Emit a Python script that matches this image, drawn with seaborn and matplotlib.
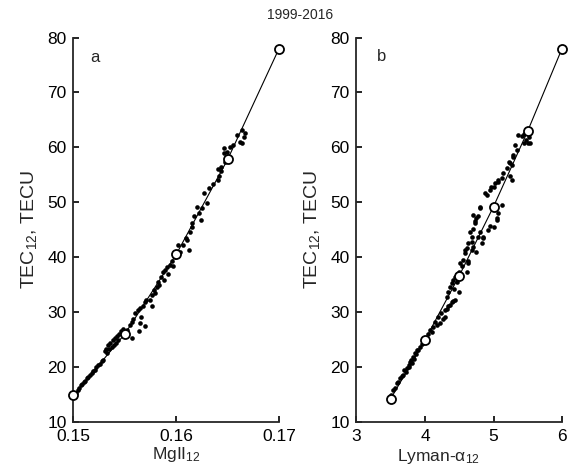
import numpy as np
import pandas as pd
import matplotlib
matplotlib.use("Agg")
import matplotlib.pyplot as plt
import seaborn as sns

# ---------------- data ----------------
# Panel a: monthly points (MgII_12, TEC_12)
a_mg = [0.1502, 0.1504, 0.1505, 0.1507, 0.1508, 0.1510, 0.1511, 0.1513, 0.1514, 0.1516,
        0.1518, 0.1519, 0.1521, 0.1522, 0.1524, 0.1526, 0.1528, 0.1529,
        0.1531, 0.1532, 0.1534, 0.1536, 0.1538, 0.1540, 0.1542, 0.1544, 0.1546, 0.1548,
        0.1533, 0.1535, 0.1537, 0.1539, 0.1541, 0.1543,
        0.1552, 0.1555, 0.1557, 0.1558, 0.1560, 0.1563, 0.1565, 0.1568, 0.1570, 0.1571,
        0.1574, 0.1576, 0.1576, 0.1578, 0.1579, 0.1581, 0.1582, 0.1583, 0.1585, 0.1587,
        0.1588, 0.1589, 0.1591, 0.1592, 0.1594, 0.1596, 0.1597, 0.1599,
        0.1557, 0.1564, 0.1570, 0.1566, 0.1565,
        0.1602, 0.1604, 0.1607, 0.1610, 0.1612, 0.1609, 0.1613, 0.1615, 0.1615, 0.1617,
        0.1620, 0.1622, 0.1624, 0.1625, 0.1630, 0.1627, 0.1632, 0.1636, 0.1641, 0.1642,
        0.1644, 0.1644, 0.1647, 0.1641, 0.1646, 0.1649, 0.1646, 0.1652, 0.1655, 0.1659,
        0.1662, 0.1664, 0.1664, 0.1667, 0.1666]
a_tec = [15.3, 15.8, 16.2, 16.6, 16.9, 17.2, 17.5, 17.9, 18.2, 18.5,
         18.8, 19.2, 19.5, 19.9, 20.3, 20.6, 21.0, 21.3,
         22.9, 23.2, 23.9, 24.4, 24.8, 25.2, 25.6, 26.0, 26.5, 26.9,
         22.6, 23.2, 23.7, 24.0, 24.4, 24.8,
         26.8, 27.6, 28.2, 28.8, 29.8, 30.4, 30.8, 31.0, 31.9, 32.2,
         32.2, 33.1, 31.0, 34.0, 33.5, 34.6, 35.5, 34.9, 36.4, 37.3,
         35.8, 37.7, 38.2, 37.0, 38.6, 39.2, 38.3, 40.1,
         25.3, 26.6, 27.4, 29.1, 27.9,
         42.2, 41.0, 42.2, 43.1, 41.3, 43.4, 44.6, 45.5, 46.2, 47.4,
         49.2, 48.0, 46.8, 48.9, 49.8, 51.6, 52.5, 53.3, 54.1, 54.7,
         55.6, 56.5, 57.4, 56.0, 58.9, 59.2, 59.8, 60.1, 60.4, 62.3,
         61.0, 63.2, 60.7, 62.6, 61.8]

# Panel a: binned means (open circles)
a_bin_mg = [0.150, 0.155, 0.160, 0.165, 0.170]
a_bin_tec = [14.8, 26.0, 40.5, 57.8, 78.0]

# Panel b: monthly points (Lyman-alpha_12, TEC_12)
b_ly = [3.51, 3.54, 3.56, 3.59, 3.61, 3.64, 3.66, 3.68, 3.70, 3.72,
        3.74, 3.76, 3.77, 3.78, 3.80, 3.81, 3.83, 3.84, 3.85, 3.87,
        3.89, 3.90, 3.93, 3.95, 3.97,
        4.04, 4.07, 4.10, 4.12, 4.15, 4.17, 4.19, 4.22, 4.24, 4.26,
        4.29, 4.29, 4.32, 4.34, 4.36, 4.39, 4.41, 4.44,
        4.32, 4.34, 4.37, 4.39, 4.41, 4.44, 4.46, 4.49, 4.42, 4.47,
        4.49, 4.51, 4.54, 4.56, 4.58, 4.58, 4.61, 4.61, 4.63, 4.63,
        4.63, 4.66, 4.68, 4.68, 4.68, 4.70, 4.70, 4.70, 4.73, 4.73,
        4.75, 4.75, 4.78, 4.78, 4.80, 4.80, 4.80, 4.83, 4.85, 4.85,
        4.88, 4.90, 4.92, 4.95, 4.95, 4.97, 5.00, 5.00, 5.02, 5.05,
        5.05, 5.07, 5.07, 5.07, 5.12, 5.12, 5.14, 5.19, 5.22, 5.24,
        5.27, 5.27, 5.24, 5.29, 5.29, 5.31, 5.34, 5.36, 5.41, 5.44,
        5.45, 5.47, 5.48, 5.50, 5.53, 5.52]
b_tec = [14.8, 15.8, 16.2, 17.0, 17.3, 17.9, 18.3, 18.5, 19.4, 19.0,
         19.8, 20.3, 20.0, 20.9, 21.2, 20.7, 21.8, 21.5, 22.5, 22.3,
         23.0, 23.1, 23.7, 24.2, 24.5,
         25.9, 26.7, 26.3, 27.3, 28.2, 27.6, 29.1, 27.9, 29.8, 28.8,
         29.1, 30.4, 30.6, 31.0, 31.3, 31.9, 32.0, 32.2,
         32.8, 33.7, 34.6, 35.2, 35.8, 36.4, 37.0, 33.7, 34.2, 35.5,
         37.3, 38.9, 38.3, 39.5, 40.7, 41.3, 41.6, 37.3, 39.2, 38.9,
         42.5, 44.6, 43.7, 42.8, 41.3, 41.9, 45.2, 47.7, 46.2, 46.5,
         47.1, 41.0, 43.7, 47.4, 48.9, 44.6, 49.2, 42.5, 43.7, 43.4,
         51.6, 51.3, 44.9, 52.2, 45.6, 52.8, 45.5, 52.8, 53.5, 46.8,
         47.1, 48.0, 54.1, 53.7, 49.5, 54.4, 55.3, 56.2, 57.4, 54.7,
         54.1, 56.8, 57.1, 58.6, 58.3, 60.4, 59.5, 62.3, 62.0, 60.7,
         62.5, 61.3, 62.8, 60.8, 60.7, 61.8]

# Panel b: binned means (open circles)
b_bin_ly = [3.5, 4.0, 4.5, 5.0, 5.5, 6.0]
b_bin_tec = [14.2, 24.9, 36.6, 49.2, 63.0, 78.0]

a_xticks = [0.15, 0.16, 0.17]
a_xticklabels = ["0.15", "0.16", "0.17"]
b_xticks = [3, 4, 5, 6]
yticks = [10, 20, 30, 40, 50, 60, 70, 80]

title = "1999-2016"

# ---------------- style ----------------
sns.set_style("ticks")
plt.rcParams["font.family"] = ["Liberation Sans", "DejaVu Sans"]
plt.rcParams["mathtext.default"] = "regular"
plt.rcParams["axes.linewidth"] = 1.3

fig = plt.figure(figsize=(5.71, 4.74), dpi=100)
ax_a = fig.add_axes([0.1287, 0.1103, 0.3600, 0.8105])
ax_b = fig.add_axes([0.6243, 0.1103, 0.3600, 0.8105])

dfa = pd.DataFrame({"x": a_mg, "y": a_tec})
dfa_bin = pd.DataFrame({"x": a_bin_mg, "y": a_bin_tec})
dfb = pd.DataFrame({"x": b_ly, "y": b_tec})
dfb_bin = pd.DataFrame({"x": b_bin_ly, "y": b_bin_tec})

for ax, df, dfbin in [(ax_a, dfa, dfa_bin), (ax_b, dfb, dfb_bin)]:
    sns.scatterplot(data=df, x="x", y="y", ax=ax, color="black", s=11,
                    linewidth=0, legend=False, zorder=3)
    sns.lineplot(data=dfbin, x="x", y="y", ax=ax, color="black", linewidth=0.8,
                 sort=False, legend=False, zorder=2)
    ax.plot(dfbin["x"], dfbin["y"], linestyle="none", marker="o",
            markersize=6.5, markerfacecolor="white", markeredgecolor="black",
            markeredgewidth=1.3, zorder=4, clip_on=False)
    ax.set_ylim(10, 80)
    ax.set_yticks(yticks)
    ax.set_ylabel("TEC$_{12}$, TECU", fontsize=14, labelpad=6)
    ax.tick_params(direction="in", length=4, width=1.2, labelsize=12.5,
                   colors="black")
    ax.tick_params(axis="x", pad=5)
    ax.tick_params(axis="y", pad=5)
    for s in ["top", "right"]:
        ax.spines[s].set_visible(False)

ax_a.set_xlim(0.15, 0.17)
ax_a.set_xticks(a_xticks)
ax_a.set_xticklabels(a_xticklabels)
ax_a.set_xlabel("MgII$_{12}$", fontsize=12.5, labelpad=1)
ax_b.set_xlim(3, 6)
ax_b.set_xticks(b_xticks)
ax_b.set_xlabel("Lyman-$\\alpha_{12}$", fontsize=12.5, labelpad=1)
ax_b.xaxis.set_label_coords(0.40, -0.066, transform=ax_b.transAxes)
ax_b.xaxis.label.set_va("top")

ax_a.text(0.105, 0.947, "a", transform=ax_a.transAxes, fontsize=12,
          ha="center", va="center")
ax_b.text(0.124, 0.95, "b", transform=ax_b.transAxes, fontsize=12,
          ha="center", va="center")

fig.text(0.525, 0.968, title, ha="center", va="center", fontsize=10)

fig.savefig("out.png", dpi=100)
